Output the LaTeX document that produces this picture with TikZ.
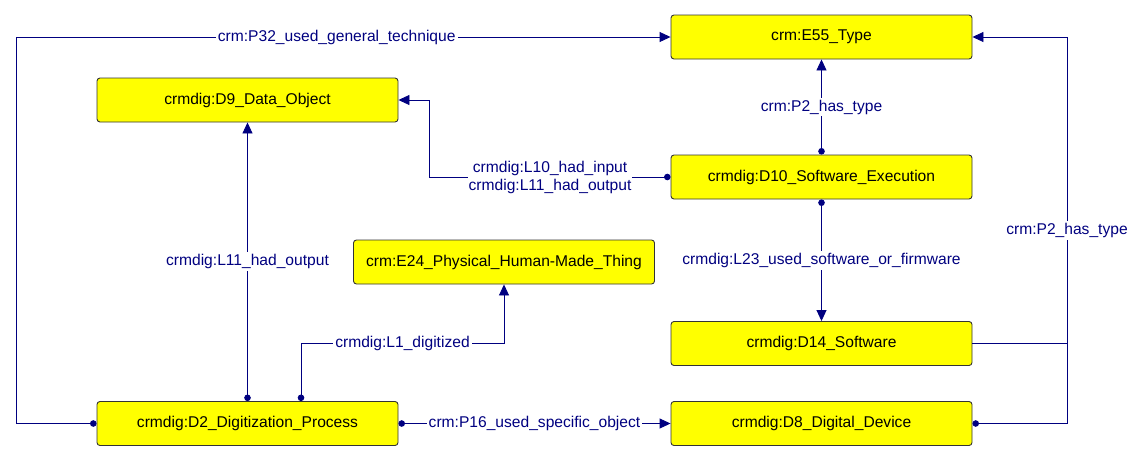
\documentclass[tikz,border=0pt]{standalone}
\usepackage{fontspec}
\setmainfont{Liberation Sans}
\usepackage{tikz}
\usetikzlibrary{
  calc,
  arrows.meta,
  shapes
}
\usepackage{xcolor}
\definecolor{linkblue}{RGB}{0,0,128}
\definecolor{boxyellow}{RGB}{255,255,0}

\begin{document}
\begin{tikzpicture}[x = 1pt, y = -1pt]
  \tikzset{>={Triangle[length=11pt, width=10pt]},
    cls/.style = {draw = black!80, fill = boxyellow, rounded corners = 3pt, line width = 0.9pt, minimum width = 301pt, minimum height = 44pt, inner sep = 0pt, font = \fontsize{15.6}{18}\selectfont},
    link/.style = {draw = linkblue, line width = 0.9pt, {Circle[length=6.5pt]}->},
    lbl/.style = {fill = white, text = linkblue, inner sep = 2pt, font = \fontsize{15.6}{18}\selectfont}}

  \useasboundingbox (0,0) rectangle (1147,461);

  \node[cls] (e55) at (821.5,37) {crm:E55\_Type};
  \node[cls] (d10) at (821.5,177) {crmdig:D10\_Software\_Execution};
  \node[cls] (d14) at (821.5,343.5) {crmdig:D14\_Software};
  \node[cls] (d8) at (821.5,423.5) {crmdig:D8\_Digital\_Device};
  \node[cls] (d9) at (247.5,100) {crmdig:D9\_Data\_Object};
  \node[cls] (d2) at (247.5,423.5) {crmdig:D2\_Digitization\_Process};
  \node[cls] (e24) at (504,262) {crm:E24\_Physical\_Human-Made\_Thing};

  \coordinate (p32a) at (16,423.5);
  \coordinate (p32b) at (16,37);
  \coordinate (l10a) at (429.5,177);
  \coordinate (l10b) at (429.5,100);
  \coordinate (l1a) at (301,343);
  \coordinate (l1b) at (504,343);
  \coordinate (p2a) at (1067,423.5);
  \coordinate (p2b) at (1067,37);

  \draw[link] (d2.west) -- (p32a) -- (p32b) -- node[lbl, pos = 0.49] {crm:P32\_used\_general\_technique} (e55.west);
  \draw[link] (d10.west) -- node[lbl, align = center, inner sep = 1pt] {crmdig:L10\_had\_input\\crmdig:L11\_had\_output} (l10a) -- (l10b) -- (d9.east);
  \draw[link] (d10.north) -- node[lbl] {crm:P2\_has\_type} (e55.south);
  \draw[link] (d10.south) -- node[lbl] {crmdig:L23\_used\_software\_or\_firmware} (d14.north);
  \draw[link] (d2.north) -- node[lbl] {crmdig:L11\_had\_output} (d9.south);
  \draw[link] (d2.north -| l1a) -- (l1a) -- node[lbl] {crmdig:L1\_digitized} (l1b) -- (e24.south);
  \draw[link] (d2.east) -- node[lbl] {crm:P16\_used\_specific\_object} (d8.west);
  \draw[link] (d8.east) -- (p2a) -- node[lbl] {crm:P2\_has\_type} (p2b) -- (e55.east);
  \draw[link, -] (d14.east) -- (d14.east -| p2a);
\end{tikzpicture}
\end{document}
